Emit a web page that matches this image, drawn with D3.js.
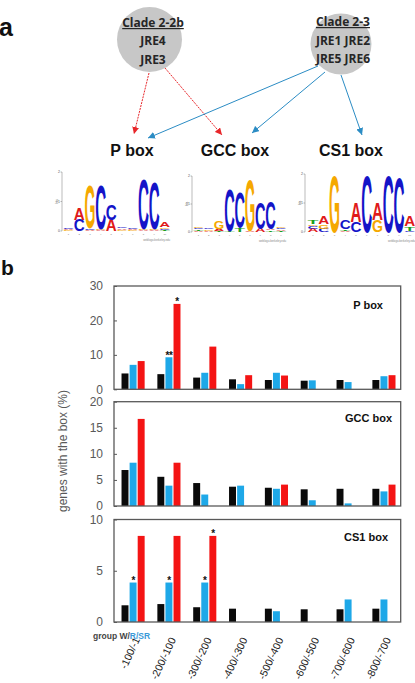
<!DOCTYPE html>
<html><head><meta charset="utf-8">
<script src="https://cdn.jsdelivr.net/npm/d3@7"></script>
<style>
html,body{margin:0;padding:0;background:#fff;}
svg{display:block;}
</style></head>
<body>
<script>
// ---------- DATA ----------
const categories = ["-100/-1","-200/-100","-300/-200","-400/-300","-500/-400","-600/-500","-700/-600","-800/-700"];
const seriesNames = ["W","R","SR"];
const seriesColors = ["#0a0a0a","#1ea8e8","#f41414"];

const pBoxW  = [4.6,4.4,3.4,2.9,2.7,2.5,2.7,2.7];
const pBoxR  = [7.1,9.3,4.8,1.5,4.8,2.6,2.1,3.8];
const pBoxSR = [8.2,24.8,12.4,4.1,4.0,0,0,4.1];
const pTicks = [0,10,20,30];

const gccW  = [6.9,5.6,4.4,3.7,3.5,3.2,3.3,3.3];
const gccR  = [8.3,3.9,2.2,3.9,3.3,1.1,0.5,2.8];
const gccSR = [16.7,8.3,0,0,4.1,0,0,4.1];
const gccTicks = [0,5,10,15,20];

const cs1W  = [1.63,1.75,1.44,1.3,1.3,1.24,1.24,1.3];
const cs1R  = [3.85,3.85,3.85,0,1.05,0,2.2,2.2];
const cs1SR = [8.4,8.4,8.4,0,0,0,0,0];
const cs1Ticks = [0,5,10];

// significance marks: [category index, series index, label]
const pStars   = [[1,1,"**"],[1,2,"*"]];
const gccStars = [];
const cs1Stars = [[0,1,"*"],[1,1,"*"],[2,1,"*"],[2,2,"*"]];

// sequence logos: columns of [letter, bits] stacked bottom -> top
const logoP = [
  [["G",0.03],["A",0.04],["C",0.04]],
  [["C",0.38],["A",0.40]],
  [["A",0.05],["C",0.05],["G",1.50]],
  [["A",0.03],["G",0.03],["C",1.52]],
  [["A",0.38],["C",0.55]],
  [["G",0.05],["A",0.05],["C",0.06]],
  [["G",0.04],["A",0.04],["C",0.05]],
  [["A",0.03],["G",0.03],["C",1.70]],
  [["A",0.03],["G",0.03],["C",1.60]],
  [["T",0.03],["C",0.05],["G",0.06],["A",0.18]]
];
const logoGCC = [
  [["A",0.05],["T",0.04],["C",0.06],["G",0.05]],
  [["A",0.05],["G",0.05],["C",0.06]],
  [["T",0.05],["A",0.07],["G",0.30]],
  [["T",0.04],["C",1.50]],
  [["T",0.15],["C",1.30]],
  [["A",0.04],["G",1.85]],
  [["A",0.12],["C",0.95]],
  [["T",0.06],["A",0.05],["C",1.00]],
  [["T",0.04],["A",0.05],["C",0.06],["G",0.04]]
];
const logoCS1 = [
  [["A",0.12],["C",0.10],["G",0.06],["T",0.14]],
  [["C",0.12],["G",0.15],["A",0.28]],
  [["G",1.95]],
  [["A",0.05],["T",0.06],["C",0.30]],
  [["C",0.35],["A",0.70]],
  [["C",1.95]],
  [["G",0.40],["A",0.60]],
  [["C",1.95]],
  [["C",1.90]],
  [["C",0.05],["T",0.15],["A",0.35]]
];
const letterColors = {A:"#e01a1a", C:"#1414c8", G:"#f5a800", T:"#1a9e1a"};

const boxNames = ["P box","GCC box","CS1 box"];
const cladeA = ["Clade 2-2b","JRE4","JRE3"];
const cladeB = ["Clade 2-3","JRE1 JRE2","JRE5 JRE6"];

// ---------- DRAW ----------
const W = 415, H = 683;
const svg = d3.select("body").append("svg").attr("width",W).attr("height",H)
  .style("font-family","'Liberation Sans', Arial, sans-serif");
svg.append("rect").attr("width",W).attr("height",H).attr("fill","#fff");

// Panel labels
svg.append("text").attr("x",-1).attr("y",36).attr("font-size",25).attr("font-weight","bold").attr("fill","#111").text("a");
svg.append("text").attr("x",1).attr("y",275).attr("font-size",21).attr("font-weight","bold").attr("fill","#111").text("b");

// Arrows
const defs = svg.append("defs");
function marker(id, color){
  defs.append("marker").attr("id",id).attr("viewBox","0 0 10 10").attr("refX",10).attr("refY",5)
    .attr("markerWidth",7).attr("markerHeight",7).attr("markerUnits","userSpaceOnUse").attr("orient","auto")
    .append("path").attr("d","M0,0 L10,5 L0,10 Z").attr("fill",color);
}
marker("arrRed","#e8262a"); marker("arrBlue","#2b8cc4");

// circles
const circles = [{cx:149.5,cy:39.5,r:32.5,tx:153,lines:cladeA,ys:[27,44.5,63.5]},
                 {cx:341,cy:44,r:30.5,tx:343,lines:cladeB,ys:[26,44.5,62.5]}];
circles.forEach(c=>{
  svg.append("circle").attr("cx",c.cx).attr("cy",c.cy).attr("r",c.r).attr("fill","#c7c7c7");
});

const arrows = [
  {x1:149,y1:73,x2:134,y2:134,c:"red"},
  {x1:165,y1:68,x2:222,y2:135,c:"red"},
  {x1:318,y1:66,x2:148,y2:138,c:"blue"},
  {x1:325,y1:72,x2:252,y2:133,c:"blue"},
  {x1:341,y1:75,x2:362,y2:135,c:"blue"}
];
arrows.forEach(a=>{
  svg.append("line").attr("x1",a.x1).attr("y1",a.y1).attr("x2",a.x2).attr("y2",a.y2)
    .attr("stroke", a.c==="red" ? "#e8262a" : "#2b8cc4").attr("stroke-width",1)
    .attr("stroke-dasharray", a.c==="red" ? "2,1" : null)
    .attr("marker-end", a.c==="red" ? "url(#arrRed)" : "url(#arrBlue)");
});

circles.forEach(c=>{
  c.lines.forEach((t,i)=>{
    svg.append("text").attr("x",c.tx).attr("y",c.ys[i]).attr("text-anchor","middle")
      .attr("font-family","'Open Sans', sans-serif").attr("font-weight",700).attr("font-size",12)
      .attr("fill","#262626").style("text-decoration", i===0 ? "underline" : null).text(t);
  });
});

// box labels
const boxX = [132,235,351];
boxNames.forEach((b,i)=>{
  svg.append("text").attr("x",boxX[i]).attr("y",156).attr("text-anchor","middle")
    .attr("font-size",16).attr("font-weight","bold").attr("fill","#111").text(b);
});

// sequence logos
function drawLogo(cols, x0, step, baseY, bitPx, axisX){
  const g = svg.append("g");
  const yB = d3.scaleLinear().domain([0,2]).range([baseY, baseY-2*bitPx]);
  g.append("line").attr("x1",axisX).attr("x2",axisX).attr("y1",yB(0)).attr("y2",yB(2)).attr("stroke","#777").attr("stroke-width",0.5);
  [0,1,2].forEach(v=>{
    g.append("line").attr("x1",axisX-1.5).attr("x2",axisX).attr("y1",yB(v)).attr("y2",yB(v)).attr("stroke","#777").attr("stroke-width",0.5);
    g.append("text").attr("x",axisX-2).attr("y",yB(v)+1.3).attr("text-anchor","end").attr("font-size",3.5).attr("fill","#555").text(v);
  });
  g.append("text").attr("transform",`translate(${axisX-4},${yB(1)}) rotate(-90)`).attr("text-anchor","middle")
    .attr("font-size",3).attr("fill","#555").text("bits");
  cols.forEach((col,i)=>{
    const cx = x0 + i*step;
    let y = baseY;
    col.forEach(([L,b])=>{
      const hpx = b*bitPx;
      const t = g.append("text").attr("font-family","'Liberation Sans', Arial, sans-serif").attr("font-weight","bold")
        .attr("font-size",100).attr("x",0).attr("y",0).attr("fill",letterColors[L]).text(L);
      const len = t.node().getComputedTextLength();
      const w = step*0.92;
      const sx = w/(len*0.9), sy = hpx/71.6;
      t.attr("transform",`translate(${cx - w/2 - len*0.05*sx},${y}) scale(${sx},${sy})`);
      y -= hpx;
    });
    g.append("text").attr("x",cx).attr("y",baseY+4).attr("text-anchor","middle").attr("font-size",2.5).attr("fill","#777").text(i+1);
  });
  g.append("text").attr("x",x0+(cols.length-1)*step+step/2).attr("y",baseY+10).attr("text-anchor","end")
    .attr("font-size",2.8).attr("fill","#888").text("weblogo.berkeley.edu");
}
drawLogo(logoP,   68.5, 10.7, 231, 29.5, 62);
drawLogo(logoGCC, 198.5, 10.3, 232, 28, 192);
drawLogo(logoCS1, 313, 10.75, 232, 29, 305);

// ---------- Bar charts ----------
const left = 114, right = 400.7;
const x = d3.scaleBand().domain(categories).range([left,right]).paddingInner(0).paddingOuter(0);
const xs = d3.scaleBand().domain(seriesNames).range([x.bandwidth()*0.21, x.bandwidth()*0.855]).paddingInner(0.14).paddingOuter(0);

const panels = [
  {top:286, bottom:389.3, max:30, ticks:pTicks, data:[pBoxW,pBoxR,pBoxSR], stars:pStars, label:"P box", lx:383, ly:309},
  {top:401.7, bottom:506, max:20, ticks:gccTicks, data:[gccW,gccR,gccSR], stars:gccStars, label:"GCC box", lx:392, ly:421.5},
  {top:519.5, bottom:622, max:10, ticks:cs1Ticks, data:[cs1W,cs1R,cs1SR], stars:cs1Stars, label:"CS1 box", lx:388, ly:540.5}
];

panels.forEach(p=>{
  const y = d3.scaleLinear().domain([0,p.max]).range([p.bottom,p.top]);
  const g = svg.append("g");
  p.data.forEach((vals,si)=>{
    g.selectAll(null).data(vals).enter().append("rect")
      .attr("x",(d,i)=>x(categories[i]) + xs(seriesNames[si]))
      .attr("width",xs.bandwidth())
      .attr("y",d=>y(d))
      .attr("height",d=>p.bottom - y(d))
      .attr("fill",seriesColors[si]);
  });
  g.append("rect").attr("x",left).attr("y",p.top).attr("width",right-left).attr("height",p.bottom-p.top)
    .attr("fill","none").attr("stroke","#595959").attr("stroke-width",1.3);
  const ax = g.append("g").attr("transform",`translate(${left},0)`)
    .call(d3.axisLeft(y).tickValues(p.ticks).tickSize(-3).tickPadding(11).tickFormat(d3.format("d")));
  ax.select(".domain").remove();
  ax.selectAll(".tick line").attr("stroke","#595959");
  ax.selectAll(".tick text").attr("font-size",12).attr("fill","#595959").attr("font-family","'Liberation Sans', Arial, sans-serif");
  p.stars.forEach(([ci,si,t])=>{
    const v = p.data[si][ci];
    g.append("text").attr("x",x(categories[ci]) + xs(seriesNames[si]) + xs.bandwidth()/2)
      .attr("y",y(v)+1.5).attr("text-anchor","middle").attr("font-size",10).attr("font-weight","bold")
      .attr("fill","#111").attr("letter-spacing",-0.5).text(t);
  });
  g.append("text").attr("x",p.lx).attr("y",p.ly).attr("text-anchor","end").attr("font-size",11)
    .attr("font-weight","bold").attr("fill","#111").text(p.label);
});

// y axis title
svg.append("text").attr("transform","translate(67,451) rotate(-90)").attr("text-anchor","middle")
  .attr("font-size",12).attr("fill","#595959").text("genes with the box (%)");

// legend text
const leg = svg.append("text").attr("x",93).attr("y",638.5).attr("font-size",8.5).attr("font-weight","bold");
leg.append("tspan").attr("fill","#444").text("group W/");
leg.append("tspan").attr("fill","#3a9ad8").text("R/SR");

// x category labels
categories.forEach(c=>{
  svg.append("text").attr("transform",`translate(${x(c)+x.bandwidth()/2+5},${638}) rotate(-65)`)
    .attr("text-anchor","end").attr("dy","0.35em").attr("font-size",10.5).attr("fill","#222").text(c);
});
</script>
</body></html>
